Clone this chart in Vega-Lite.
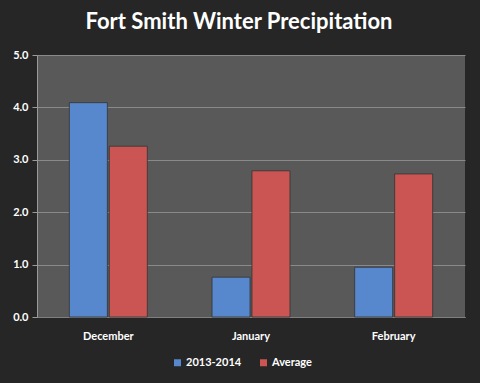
{
  "$schema": "https://vega.github.io/schema/vega-lite/v6.json",
  "width": 428,
  "height": 262,
  "autosize": {"type": "none"},
  "padding": {"left": 37, "top": 55, "right": 15, "bottom": 66},
  "background": "#262626",
  "title": {
    "text": "Fort Smith Winter Precipitation",
    "font": "Lato",
    "fontSize": 22,
    "fontWeight": "bold",
    "color": "#ffffff",
    "anchor": "middle",
    "offset": 15,
    "dx": -12
  },
  "config": {
    "view": {"fill": "#595959", "stroke": null},
    "font": "Lato"
  },
  "data": {
    "values": [
      {"month": "December", "series": "2013-2014", "value": 4.09},
      {"month": "December", "series": "Average", "value": 3.26},
      {"month": "January", "series": "2013-2014", "value": 0.76},
      {"month": "January", "series": "Average", "value": 2.79},
      {"month": "February", "series": "2013-2014", "value": 0.95},
      {"month": "February", "series": "Average", "value": 2.73}
    ]
  },
  "mark": {"type": "bar", "width": 38, "stroke": "#333333", "strokeWidth": 0.8},
  "encoding": {
    "x": {
      "field": "month",
      "type": "nominal",
      "sort": ["December", "January", "February"],
      "scale": {"paddingInner": 0, "paddingOuter": 0},
      "axis": {
        "title": null,
        "labelAngle": 0,
        "labelColor": "#ffffff",
        "labelFont": "Lato",
        "labelFontWeight": "bold",
        "labelFontSize": 11,
        "labelPadding": 13,
        "ticks": false,
        "domainColor": "#7f7f7f",
        "grid": false
      }
    },
    "xOffset": {
      "field": "series",
      "type": "nominal",
      "scale": {"paddingInner": 0.05, "paddingOuter": 0.81}
    },
    "y": {
      "field": "value",
      "type": "quantitative",
      "scale": {"domain": [0, 5]},
      "axis": {
        "title": null,
        "values": [0, 1, 2, 3, 4, 5],
        "format": ".1f",
        "labelColor": "#ffffff",
        "labelFont": "Lato",
        "labelFontWeight": "bold",
        "labelFontSize": 11,
        "labelPadding": 4,
        "tickColor": "#9a9a9a",
        "tickSize": 5,
        "domainColor": "#9a9a9a",
        "gridColor": "#8a8a8a",
        "gridWidth": 1
      }
    },
    "color": {
      "field": "series",
      "type": "nominal",
      "scale": {"domain": ["2013-2014", "Average"], "range": ["#5787CD", "#CB5552"]},
      "legend": {
        "title": null,
        "orient": "none",
        "direction": "horizontal",
        "legendX": 135,
        "legendY": 302,
        "symbolType": "square",
        "symbolSize": 49,
        "labelOffset": 3,
        "labelColor": "#ffffff",
        "labelFont": "Lato",
        "labelFontWeight": "bold",
        "labelFontSize": 11,
        "columnPadding": 16,
        "symbolStrokeWidth": 0
      }
    }
  }
}
